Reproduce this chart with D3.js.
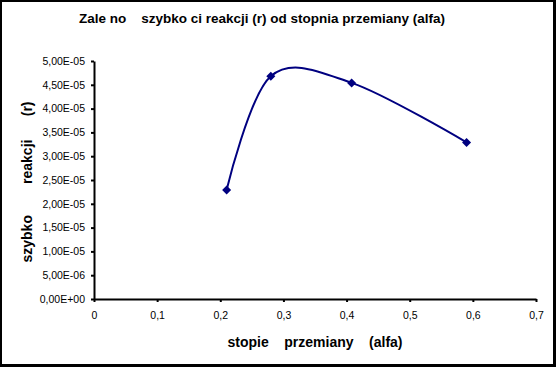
<!DOCTYPE html>
<html>
<head>
<meta charset="utf-8">
<script src="https://cdn.jsdelivr.net/npm/d3@7"></script>
<style>
  body { margin: 0; background: #fff; }
  svg text { font-family: "Liberation Sans", Arial, sans-serif; white-space: pre; }
</style>
</head>
<body>
<svg id="chart" width="556" height="367"></svg>
<script>
// ----------------------------
// Data
// ----------------------------
var alfa = [0.21, 0.28, 0.408, 0.59];
var rate = [2.29e-5, 4.68e-5, 4.54e-5, 3.29e-5];

var xTicks = [0, 0.1, 0.2, 0.3, 0.4, 0.5, 0.6, 0.7];
var yTicks = [0, 5e-6, 1e-5, 1.5e-5, 2e-5, 2.5e-5, 3e-5, 3.5e-5, 4e-5, 4.5e-5, 5e-5];

var titleText = "Zale no    szybko ci reakcji (r) od stopnia przemiany (alfa)";
var xTitle = "stopie    przemiany    (alfa)";
var yTitle = "szybko        reakcji      (r)";

var navy = "#000080";

drawChart();

function drawChart() {
    // ----------------------------
    // Layout
    // ----------------------------
    var svg = d3.select("#chart");
    var plotLeft = 94, plotRight = 536, plotTop = 61, plotBottom = 299;

    var x = d3.scaleLinear().domain([0, 0.7]).range([plotLeft, plotRight]);
    var y = d3.scaleLinear().domain([0, 5e-5]).range([plotBottom, plotTop]);

    // Frame
    svg.append("rect").attr("x", 0).attr("y", 0).attr("width", 556).attr("height", 367).attr("fill", "#000");
    svg.append("rect").attr("x", 2).attr("y", 2).attr("width", 551).attr("height", 362).attr("fill", "#fff");

    // Title
    svg.append("text")
        .attr("x", 262).attr("y", 23)
        .attr("text-anchor", "middle")
        .attr("font-size", 13.5).attr("font-weight", "bold")
        .text(titleText);

    // ----------------------------
    // Axes
    // ----------------------------
    var yAxis = svg.append("g")
        .attr("transform", "translate(" + plotLeft + ",0)")
        .call(d3.axisLeft(y).tickValues(yTicks).tickFormat(sciLabel).tickSizeInner(3).tickSizeOuter(0).tickPadding(6));

    var xAxis = svg.append("g")
        .attr("transform", "translate(0," + plotBottom + ")")
        .call(d3.axisBottom(x).tickValues(xTicks).tickFormat(decLabel).tickSizeInner(3).tickSizeOuter(0).tickPadding(10));

    [yAxis, xAxis].forEach(function (g) {
        g.select(".domain").attr("stroke", "#000").attr("stroke-width", 2);
        g.selectAll(".tick line").attr("stroke", "#000").attr("stroke-width", 2);
        g.selectAll(".tick text")
            .attr("fill", "#000")
            .attr("font-size", 10.5)
            .attr("font-family", "'Liberation Sans', Arial, sans-serif");
    });

    // Axis titles
    svg.append("text")
        .attr("x", 315).attr("y", 347)
        .attr("text-anchor", "middle")
        .attr("font-size", 14).attr("font-weight", "bold")
        .text(xTitle);

    svg.append("text")
        .attr("transform", "translate(32,182) rotate(-90)")
        .attr("text-anchor", "middle")
        .attr("font-size", 14).attr("font-weight", "bold")
        .text(yTitle);

    // ----------------------------
    // Series: smoothed line and diamond markers
    // ----------------------------
    var points = alfa.map(function (a, i) { return [a, rate[i]]; });

    var line = d3.line()
        .x(function (d) { return x(d[0]); })
        .y(function (d) { return y(d[1]); })
        .curve(d3.curveCardinal.tension(0));

    svg.append("path")
        .datum(points)
        .attr("d", line)
        .attr("fill", "none")
        .attr("stroke", navy)
        .attr("stroke-width", 2);

    svg.selectAll(".marker")
        .data(points)
        .enter().append("path")
        .attr("class", "marker")
        .attr("transform", function (d) { return "translate(" + x(d[0]) + "," + y(d[1]) + ")"; })
        .attr("d", "M0,-4.5L4.5,0L0,4.5L-4.5,0Z")
        .attr("fill", navy);
}

// Excel style labels: "4,50E-05", "0,1"
function sciLabel(v) {
    if (v === 0) return "0,00E+00";
    var parts = v.toExponential(2).split("e");
    var exp = parseInt(parts[1], 10);
    var sign = exp < 0 ? "-" : "+";
    var e = Math.abs(exp);
    return parts[0].replace(".", ",") + "E" + sign + (e < 10 ? "0" + e : e);
}
function decLabel(v) {
    return String(+v.toFixed(1)).replace(".", ",");
}
</script>
</body>
</html>
